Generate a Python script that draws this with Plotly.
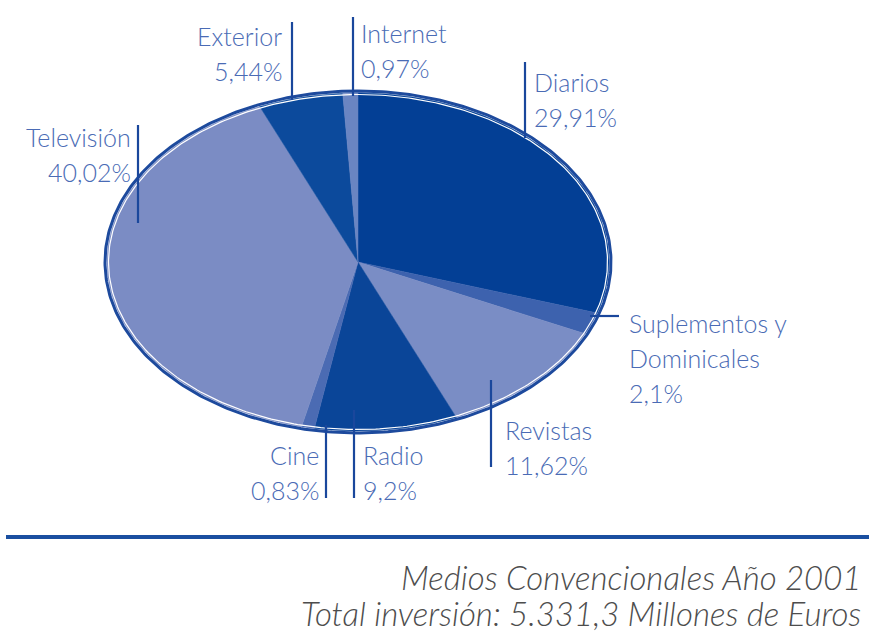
import numpy as np
import plotly.graph_objects as go

# ---- data ----
categories = ["Diarios", "Suplementos y Dominicales", "Revistas", "Radio", "Cine",
              "Televisión", "Exterior", "Internet"]
shares = [29.91, 2.1, 11.62, 9.2, 0.83, 40.02, 5.44, 0.97]
share_labels = ["29,91%", "2,1%", "11,62%", "9,2%", "0,83%", "40,02%", "5,44%", "0,97%"]
label_lines = [["Diarios"], ["Suplementos y", "Dominicales"], ["Revistas"], ["Radio"], ["Cine"],
               ["Televisión"], ["Exterior"], ["Internet"]]
slice_colors = ["#033F95", "#3D62AE", "#7A8DC5", "#0A4598", "#4B6BB3",
                "#7B8CC4", "#0C4A9C", "#6A85C2"]
footer_lines = ["Medios Convencionales Año 2001",
                "Total inversión: 5.331,3 Millones de Euros"]

# ---- layout constants ----
W, H = 869, 638
cx, cy, a, b = 358, 262, 251, 169
text_color = "#4A6BB5"
line_color = "#1A479C"
font_family = "Lato"

fig = go.Figure()

total = sum(shares)
start = 0.0
for name, v, col in zip(categories, shares, slice_colors):
    end = start + v / total * 2 * np.pi
    t = np.linspace(start, end, max(int((end - start) * 80), 3))
    xs = np.concatenate([[cx], cx + a * np.sin(t), [cx]])
    ys = np.concatenate([[cy], cy - b * np.cos(t), [cy]])
    fig.add_trace(go.Scatter(x=xs, y=ys, fill="toself", fillcolor=col, mode="lines",
                             line=dict(width=0.5, color=col), hoverinfo="skip",
                             showlegend=False))
    start = end

# ellipse rim: dark outer line + thin white inner line
tt = np.linspace(0, 2 * np.pi, 400)
fig.add_trace(go.Scatter(x=cx + (a + 2) * np.sin(tt), y=cy - (b + 2) * np.cos(tt), mode="lines",
                         line=dict(width=3, color="#1D4A9D"), hoverinfo="skip", showlegend=False))
fig.add_trace(go.Scatter(x=cx + (a - 1.5) * np.sin(tt), y=cy - (b - 1.5) * np.cos(tt), mode="lines",
                         line=dict(width=1.2, color="white"), hoverinfo="skip", showlegend=False))

# ---- labels: (x, first-line y, anchor) and leader lines ----
label_pos = {
    "Diarios": (532, 82, "left"),
    "Suplementos y Dominicales": (627, 323, "left"),
    "Revistas": (503, 430, "left"),
    "Radio": (361, 455, "left"),
    "Cine": (321, 455, "right"),
    "Televisión": (133, 137, "right"),
    "Exterior": (284, 36, "right"),
    "Internet": (359, 33, "left"),
}
leaders = {
    "Diarios": (525, 62, 525, 138),
    "Suplementos y Dominicales": (590, 316, 619, 316),
    "Revistas": (491, 380, 491, 467),
    "Radio": (354, 410, 354, 498),
    "Cine": (326, 425, 326, 498),
    "Televisión": (138, 125, 138, 223),
    "Exterior": (292, 22, 292, 100),
    "Internet": (353, 17, 353, 96),
}
line_gap = 35
for name, lines, pct in zip(categories, label_lines, share_labels):
    x, y0, anc = label_pos[name]
    for i, txt in enumerate(lines + [pct]):
        fig.add_annotation(x=x, y=y0 + i * line_gap, text=txt, showarrow=False,
                           xanchor=anc, yanchor="middle", xref="x", yref="y",
                           font=dict(family=font_family, size=25, color=text_color, weight=300))
    x0, y0l, x1, y1l = leaders[name]
    fig.add_shape(type="line", x0=x0, y0=y0l, x1=x1, y1=y1l, xref="x", yref="y",
                  line=dict(color=line_color, width=2.2))

# footer rule and text
fig.add_shape(type="line", x0=6, y0=537, x1=W, y1=537, xref="x", yref="y",
              line=dict(color="#1A4FA0", width=4))
for i, txt in enumerate(footer_lines):
    fig.add_annotation(x=863, y=577 + i * 36, text="<i>" + txt + "</i>", showarrow=False,
                       xanchor="right", yanchor="middle", xref="x", yref="y",
                       font=dict(family=font_family, size=33, color="#4d4d4d", weight=300))

fig.update_layout(
    width=W, height=H, autosize=False,
    margin=dict(l=0, r=0, t=0, b=0),
    paper_bgcolor="white", plot_bgcolor="white",
    xaxis=dict(range=[0, W], visible=False, fixedrange=True),
    yaxis=dict(range=[H, 0], visible=False, fixedrange=True),
    showlegend=False,
)

fig.write_html("out.html")
